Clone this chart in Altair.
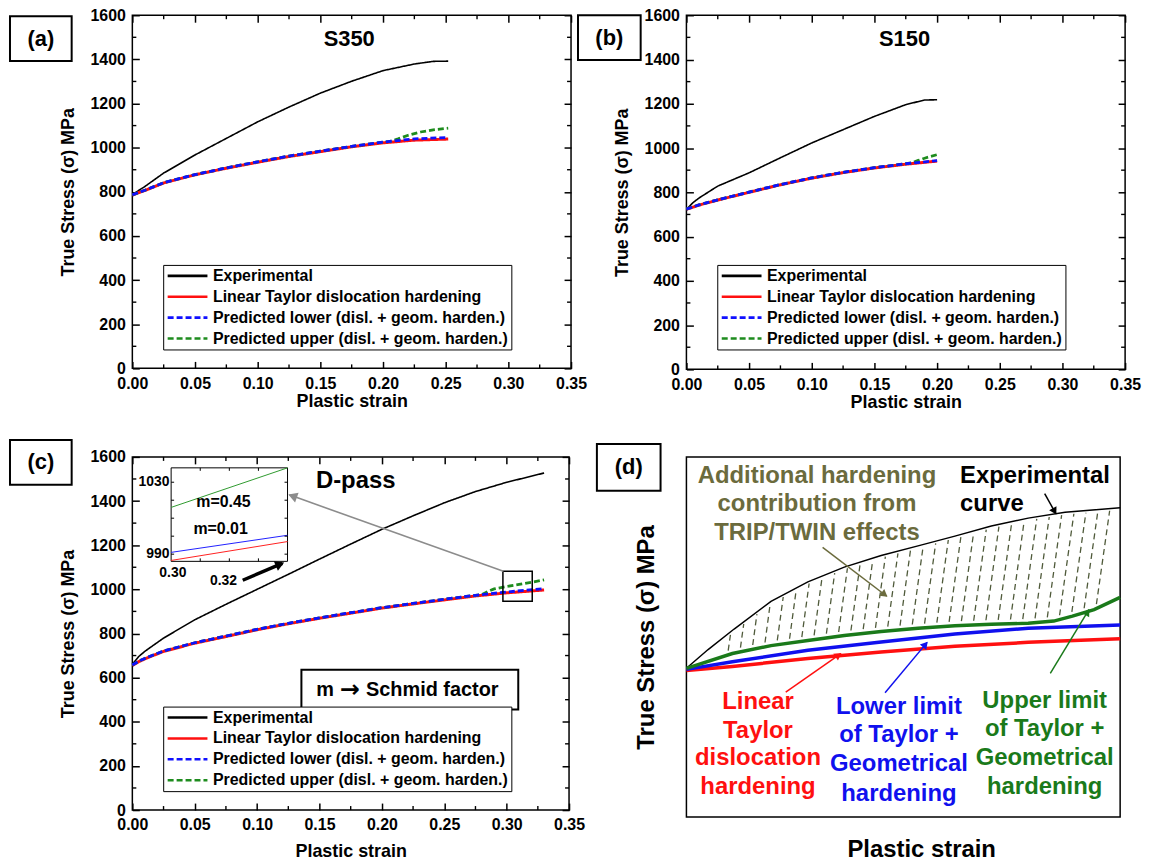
import math
import altair as alt
import numpy as np
import pandas as pd

FONT = "Liberation Sans"

SERIES = ["Experimental", "Linear Taylor dislocation hardening",
          "Predicted lower (disl. + geom. harden.)",
          "Predicted upper (disl. + geom. harden.)"]
SERIES_COLORS = ["#000000", "#ff1010", "#1010ff", "#1e8c1e"]
SERIES_DASH = [[1, 0], [1, 0], [6, 3], [6, 3]]
SERIES_WIDTH = [1.6, 3.0, 2.8, 2.8]
DRAW_ORDER = [0, 1, 3, 2]

X_MAJOR = [0.0, 0.05, 0.10, 0.15, 0.20, 0.25, 0.30, 0.35]
X_MINOR = [0.025, 0.075, 0.125, 0.175, 0.225, 0.275, 0.325]
Y_MAJOR = [0, 200, 400, 600, 800, 1000, 1200, 1400, 1600]
Y_MINOR = [100, 300, 500, 700, 900, 1100, 1300, 1500]
X_DOMAIN = [0.0, 0.35]
Y_DOMAIN = [0, 1600]

# ---------------- panel (a) S350 ----------------
a_exp_x = [0, 0.005, 0.01, 0.025, 0.05, 0.075, 0.10, 0.125, 0.15, 0.175, 0.20, 0.225, 0.24, 0.252]
a_exp_y = [787, 806, 824, 885, 967, 1042, 1117, 1184, 1247, 1301, 1349, 1379, 1391, 1392]
a_lin_x = [0, 0.005, 0.01, 0.025, 0.05, 0.075, 0.10, 0.125, 0.15, 0.175, 0.20, 0.225, 0.252]
a_lin_y = [785, 796, 806, 840, 877, 907, 934, 960, 982, 1004, 1022, 1034, 1039]
a_low_x = [0, 0.005, 0.01, 0.025, 0.05, 0.075, 0.10, 0.125, 0.15, 0.175, 0.20, 0.225, 0.252]
a_low_y = [786, 797, 807, 841, 878, 908, 936, 962, 984, 1006, 1025, 1040, 1046]
a_up_x = [0, 0.01, 0.025, 0.05, 0.075, 0.10, 0.125, 0.15, 0.175, 0.20, 0.206, 0.212, 0.22, 0.23, 0.24, 0.252]
a_up_y = [786, 807, 841, 878, 908, 936, 962, 984, 1006, 1025, 1029, 1040, 1056, 1071, 1081, 1088]

# ---------------- panel (b) S150 ----------------
b_exp_x = [0, 0.005, 0.01, 0.025, 0.05, 0.075, 0.10, 0.125, 0.15, 0.175, 0.19, 0.20]
b_exp_y = [723, 752, 774, 828, 888, 956, 1023, 1083, 1143, 1196, 1217, 1218]
b_lin_x = [0, 0.01, 0.025, 0.05, 0.075, 0.10, 0.125, 0.15, 0.175, 0.20]
b_lin_y = [723, 742, 765, 800, 834, 864, 889, 910, 927, 941]
b_low_x = [0, 0.01, 0.025, 0.05, 0.075, 0.10, 0.125, 0.15, 0.175, 0.20]
b_low_y = [724, 743, 766, 801, 835, 865, 890, 911, 929, 943]
b_up_x = [0, 0.01, 0.025, 0.05, 0.075, 0.10, 0.125, 0.15, 0.175, 0.18, 0.185, 0.19, 0.195, 0.20]
b_up_y = [724, 743, 766, 801, 835, 865, 890, 911, 929, 933, 944, 954, 962, 970]

# ---------------- panel (c) D-pass ----------------
c_exp_x = [0, 0.005, 0.01, 0.025, 0.05, 0.075, 0.10, 0.125, 0.15, 0.175, 0.20, 0.225, 0.25, 0.275, 0.30, 0.33]
c_exp_y = [660, 695, 719, 779, 862, 932, 1000, 1068, 1137, 1205, 1272, 1333, 1392, 1443, 1485, 1527]
c_lin_x = [0, 0.005, 0.01, 0.025, 0.05, 0.075, 0.10, 0.125, 0.15, 0.175, 0.20, 0.225, 0.25, 0.275, 0.30, 0.33]
c_lin_y = [655, 672, 685, 719, 756, 786, 817, 844, 869, 892, 915, 934, 952, 970, 984, 997]
c_low_x = [0, 0.005, 0.01, 0.025, 0.05, 0.075, 0.10, 0.125, 0.15, 0.175, 0.20, 0.225, 0.25, 0.275, 0.30, 0.33]
c_low_y = [657, 674, 687, 721, 758, 788, 819, 846, 871, 894, 917, 936, 955, 973, 988, 1003]
c_up_x = [0, 0.005, 0.01, 0.025, 0.05, 0.075, 0.10, 0.125, 0.15, 0.175, 0.20, 0.225, 0.25, 0.275,
          0.28, 0.285, 0.29, 0.30, 0.31, 0.32, 0.33]
c_up_y = [657, 674, 687, 721, 758, 788, 819, 846, 871, 894, 917, 936, 955, 973,
          976, 990, 1002, 1013, 1022, 1032, 1043]

# inset of (c)
inset_x = [0.30, 0.32]
inset_lin = [986.5, 997.0]
inset_low = [991.0, 1000.5]
inset_up = [1016.0, 1038.0]
INSET_XD = [0.30, 0.32]
INSET_YD = [986, 1038]
INSET_XT = [0.305, 0.31, 0.315]
INSET_YT = [990, 1000, 1010, 1020, 1030]

# ---------------- panel (d) schematic ----------------
d_exp_u = [0, 0.05, 0.11, 0.195, 0.28, 0.364, 0.449, 0.534, 0.619, 0.703, 0.788, 0.873, 1.0]
d_exp_v = [0.413, 0.465, 0.522, 0.599, 0.653, 0.694, 0.726, 0.753, 0.780, 0.808, 0.830, 0.846, 0.859]
d_up_u = [0, 0.106, 0.195, 0.28, 0.364, 0.449, 0.534, 0.619, 0.703, 0.788, 0.847, 0.89, 0.94, 1.0]
d_up_v = [0.413, 0.454, 0.476, 0.49, 0.504, 0.515, 0.524, 0.531, 0.535, 0.538, 0.544, 0.558, 0.576, 0.61]
d_low_u = [0, 0.106, 0.28, 0.449, 0.619, 0.788, 1.0]
d_low_v = [0.41, 0.431, 0.463, 0.486, 0.508, 0.524, 0.533]
d_lin_u = [0, 0.106, 0.28, 0.449, 0.619, 0.788, 1.0]
d_lin_v = [0.407, 0.418, 0.44, 0.458, 0.474, 0.485, 0.495]

OLIVE = "#6b6b3d"
D_RED = "#ff1010"
D_BLUE = "#1010ee"
D_GREEN = "#1a7a1a"

# panel sizes
AW, AH = 441, 355
BW, BH = 441, 356
CW, CH = 439, 355
DW, DH = 436, 362

TICK_IN = 7  # inward tick length (px)


def lin_scale(domain, rng=None):
    if rng is None:
        return alt.Scale(domain=domain, nice=False, zero=False)
    return alt.Scale(domain=domain, range=rng, nice=False, zero=False)


def x_axis(title_pad):
    # axis line pulled inside by TICK_IN so its outward ticks end on the frame: inward ticks
    return alt.Axis(title="Plastic strain", values=X_MAJOR, format=".2f", ticks=True,
                    tickSize=TICK_IN, offset=-TICK_IN, tickColor="black", tickWidth=1.5,
                    domain=False, grid=False, labelFlush=False, labelOverlap=False,
                    labelFont=FONT, labelFontWeight="bold", labelFontSize=16, labelColor="black",
                    labelPadding=7, titleFont=FONT, titleFontWeight="bold", titleFontSize=18,
                    titleColor="black", titlePadding=title_pad)


def y_axis():
    return alt.Axis(title="True Stress (σ) MPa", values=Y_MAJOR, format="d", ticks=True,
                    tickSize=TICK_IN, offset=-TICK_IN, tickColor="black", tickWidth=1.5,
                    domain=False, grid=False, labelFlush=False, labelOverlap=False,
                    labelFont=FONT, labelFontWeight="bold", labelFontSize=16, labelColor="black",
                    labelPadding=7, titleFont=FONT, titleFontWeight="bold", titleFontSize=18,
                    titleColor="black", titlePadding=13)


def mirror_layer():
    """Top and right inward major ticks, through an independent copy of the panel's scales."""
    top = alt.Axis(orient="top", values=X_MAJOR, ticks=True, tickSize=TICK_IN, offset=-TICK_IN,
                   tickColor="black", tickWidth=1.5, labels=False, domain=False, grid=False, title=None)
    right = alt.Axis(orient="right", values=Y_MAJOR, ticks=True, tickSize=TICK_IN, offset=-TICK_IN,
                     tickColor="black", tickWidth=1.5, labels=False, domain=False, grid=False, title=None)
    d = pd.DataFrame({"mx": X_DOMAIN, "my": Y_DOMAIN})
    return alt.Chart(d).mark_point(opacity=0, size=1).encode(
        x=alt.X("mx:Q", scale=lin_scale(X_DOMAIN), axis=top),
        y=alt.Y("my:Q", scale=lin_scale(Y_DOMAIN), axis=right))


def make_legend():
    return alt.Legend(title=None, orient="none", legendX=31, legendY=251, strokeColor="black",
                      fillColor="white", padding=3, labelFont=FONT, labelFontWeight="bold",
                      labelFontSize=16, labelColor="black", labelLimit=600, labelOffset=4,
                      symbolType="stroke", symbolSize=1600, symbolStrokeWidth=2.6,
                      clipHeight=16, rowPadding=5, symbolOffset=0)


def arrow_head(x1, y1, x2, y2, xd, yd, W, H, back=4.0):
    dxp = (x2 - x1) / (xd[1] - xd[0]) * W
    dyp = -(y2 - y1) / (yd[1] - yd[0]) * H
    L = math.hypot(dxp, dyp)
    ux, uy = dxp / L, dyp / L
    ang = math.degrees(math.atan2(ux, -uy)) % 360
    hx = x2 - ux * back / W * (xd[1] - xd[0])
    hy = y2 + uy * back / H * (yd[1] - yd[0])
    return hx, hy, ang


def tag_layers(tag, x1, x2, y1, y2):
    d = pd.DataFrame({"t": [tag]})
    box = alt.Chart(d).mark_rect(fill="white", stroke="black", strokeWidth=2).encode(
        x=alt.value(x1), x2=alt.value(x2), y=alt.value(y1), y2=alt.value(y2))
    txt = alt.Chart(d).mark_text(font=FONT, fontWeight="bold", fontSize=22, color="black").encode(
        x=alt.value((x1 + x2) / 2), y=alt.value((y1 + y2) / 2), text="t:N")
    return [box, txt]


def tick_layers(X, Y, xd, yd, W, H, xmaj, xmin, ymaj, ymin, maj_len, min_len, width=1.4):
    """Inward ticks on all four sides: each tick is a 2-point line through the panel's scales."""
    rows = []
    ylen = lambda L: L / H * (yd[1] - yd[0])
    xlen = lambda L: L / W * (xd[1] - xd[0])
    k = 0
    for vals, L in ((xmaj, maj_len), (xmin, min_len)):
        for v in vals:
            for e0, e1 in ((yd[0], yd[0] + ylen(L)), (yd[1], yd[1] - ylen(L))):
                rows.append({"tid": k, "o": 0, "tx": v, "ty": e0})
                rows.append({"tid": k, "o": 1, "tx": v, "ty": e1})
                k += 1
    for vals, L in ((ymaj, maj_len), (ymin, min_len)):
        for v in vals:
            for e0, e1 in ((xd[0], xd[0] + xlen(L)), (xd[1], xd[1] - xlen(L))):
                rows.append({"tid": k, "o": 0, "tx": e0, "ty": v})
                rows.append({"tid": k, "o": 1, "tx": e1, "ty": v})
                k += 1
    d = pd.DataFrame(rows)
    return [alt.Chart(d).mark_line(color="#000000", strokeWidth=width, strokeCap="butt").encode(
        x=X("tx"), y=Y("ty"), detail="tid:N", order="o:Q")]


def main_layers(curves, W, H, name, name_x, name_y, tag, tagbox, name_size=22, title_pad=1):
    xs = lin_scale(X_DOMAIN)
    ys = lin_scale(Y_DOMAIN)
    xa = x_axis(title_pad)
    ya = y_axis()

    def X(f):
        return alt.X(f, type="quantitative", scale=xs, axis=xa)

    def Y(f):
        return alt.Y(f, type="quantitative", scale=ys, axis=ya)

    leg = make_legend()
    cscale = alt.Scale(domain=SERIES, range=SERIES_COLORS)
    dscale = alt.Scale(domain=SERIES, range=SERIES_DASH)
    layers = []
    for i in DRAW_ORDER:
        sx, sy = curves[i]
        df = pd.DataFrame({"strain": sx, "stress": sy, "series": SERIES[i]})
        layers.append(alt.Chart(df).mark_line(strokeWidth=SERIES_WIDTH[i]).encode(
            x=X("strain"), y=Y("stress"),
            color=alt.Color("series:N", scale=cscale, legend=leg),
            strokeDash=alt.StrokeDash("series:N", scale=dscale, legend=leg)))
    layers += tick_layers(X, Y, X_DOMAIN, Y_DOMAIN, W, H, [], X_MINOR, [], Y_MINOR, 7, 4)
    nd = pd.DataFrame({"strain": [name_x], "stress": [name_y], "t": [name]})
    layers.append(alt.Chart(nd).mark_text(font=FONT, fontWeight="bold", fontSize=name_size,
                                          color="black").encode(x=X("strain"), y=Y("stress"), text="t:N"))
    layers += tag_layers(tag, *tagbox)
    return layers, X, Y


# ---------- (a) ----------
la, _, _ = main_layers([(a_exp_x, a_exp_y), (a_lin_x, a_lin_y), (a_low_x, a_low_y), (a_up_x, a_up_y)],
                       AW, AH, "S350", 0.173, 1492, "(a)", (-123, -61, 1, 46))
pa = alt.layer(alt.layer(*la), mirror_layer()).resolve_scale(
    x="independent", y="independent").properties(width=AW, height=AH)

# ---------- (b) ----------
lb, _, _ = main_layers([(b_exp_x, b_exp_y), (b_lin_x, b_lin_y), (b_low_x, b_low_y), (b_up_x, b_up_y)],
                       BW, BH, "S150", 0.174, 1492, "(b)", (-109, -46, 0, 45))
pb = alt.layer(alt.layer(*lb), mirror_layer()).resolve_scale(
    x="independent", y="independent").properties(width=BW, height=BH)

# ---------- (c) ----------
lc, CX, CY = main_layers([(c_exp_x, c_exp_y), (c_lin_x, c_lin_y), (c_low_x, c_low_y), (c_up_x, c_up_y)],
                         CW, CH, "D-pass", 0.179, 1492, "(c)", (-123, -61, -17, 28), name_size=24,
                         title_pad=10)
# zoom rectangle
lc.append(alt.Chart(pd.DataFrame({"x1": [0.297], "x2": [0.3205], "y1": [946], "y2": [1082]})).mark_rect(
    fill=None, stroke="black", strokeWidth=1.5).encode(
    x=CX("x1"), x2="x2:Q", y=CY("y1"), y2="y2:Q"))
# gray arrow from zoom box to inset
g_x1, g_y1, g_x2, g_y2 = 0.2974, 1081.7, 0.1258, 1428.0
lc.append(alt.Chart(pd.DataFrame({"x1": [g_x1], "x2": [g_x2], "y1": [g_y1], "y2": [g_y2]})).mark_rule(
    color="#8c8c8c", strokeWidth=1.6).encode(x=CX("x1"), x2="x2:Q", y=CY("y1"), y2="y2:Q"))
hx, hy, ang = arrow_head(g_x1, g_y1, g_x2, g_y2, X_DOMAIN, Y_DOMAIN, CW, CH, back=5)
lc.append(alt.Chart(pd.DataFrame({"x": [hx], "y": [hy]})).mark_point(
    shape="triangle", filled=True, color="#8c8c8c", size=110, opacity=1).encode(
    x=CX("x"), y=CY("y"), angle=alt.value(ang)))
# Schmid factor box
lc.append(alt.Chart(pd.DataFrame({"x1": [0.1355], "x2": [0.3093], "y1": [455], "y2": [635.5]})).mark_rect(
    fill="white", stroke="black", strokeWidth=2).encode(x=CX("x1"), x2="x2:Q", y=CY("y1"), y2="y2:Q"))
lc.append(alt.Chart(pd.DataFrame({"x": [0.1615], "y": [545], "t": ["m"]})).mark_text(
    font=FONT, fontWeight="bold", fontSize=20, color="black", align="right").encode(
    x=CX("x"), y=CY("y"), text="t:N"))
lc.append(alt.Chart(pd.DataFrame({"x": [0.1742], "y": [545], "t": ["→"]})).mark_text(
    font="DejaVu Sans", fontWeight="bold", fontSize=24, color="black").encode(
    x=CX("x"), y=CY("y"), text="t:N"))
lc.append(alt.Chart(pd.DataFrame({"x": [0.1873], "y": [545], "t": ["Schmid factor"]})).mark_text(
    font=FONT, fontWeight="bold", fontSize=20, color="black", align="left").encode(
    x=CX("x"), y=CY("y"), text="t:N"))
main_c = alt.layer(*lc)

ixs = lin_scale(INSET_XD, [39, 156])
iys = lin_scale(INSET_YD, [105, 11])
IW, IH = 117, 94


def IX(f):
    return alt.X(f, type="quantitative", scale=ixs, axis=None)


def IY(f):
    return alt.Y(f, type="quantitative", scale=iys, axis=None)


il = []
il.append(alt.Chart(pd.DataFrame({"x1": [0.30], "x2": [0.32], "y1": [986], "y2": [1038]})).mark_rect(
    fill="white", stroke="black", strokeWidth=1).encode(x=IX("x1"), x2="x2:Q", y=IY("y1"), y2="y2:Q"))
for vals, col in ((inset_lin, "#ff2020"), (inset_low, "#2020ff"), (inset_up, "#2e9a2e")):
    il.append(alt.Chart(pd.DataFrame({"x": inset_x, "y": vals})).mark_line(color=col, strokeWidth=1).encode(
        x=IX("x"), y=IY("y")))
il += tick_layers(IX, IY, INSET_XD, INSET_YD, IW, IH, INSET_XT, [], INSET_YT, [], 3, 2, width=1)
il.append(alt.Chart(pd.DataFrame({"x": [0.2997, 0.2997], "y": [1030, 990], "t": ["1030", "990"]})).mark_text(
    font=FONT, fontWeight="bold", fontSize=14, color="black", align="right").encode(
    x=IX("x"), y=IY("y"), text="t:N"))
il.append(alt.Chart(pd.DataFrame({"x": [0.3003, 0.309], "y": [979.4, 974.9], "t": ["0.30", "0.32"]})).mark_text(
    font=FONT, fontWeight="bold", fontSize=14, color="black").encode(
    x=IX("x"), y=IY("y"), text="t:N"))
il.append(alt.Chart(pd.DataFrame({"x": [0.309, 0.3085], "y": [1019.2, 1003.7], "t": ["m=0.45", "m=0.01"]})).mark_text(
    font=FONT, fontWeight="bold", fontSize=16, color="black").encode(
    x=IX("x"), y=IY("y"), text="t:N"))
k_x1, k_y1, k_x2, k_y2 = 0.3123, 975.5, 0.3191, 984.9
il.append(alt.Chart(pd.DataFrame({"x1": [k_x1], "x2": [k_x2], "y1": [k_y1], "y2": [k_y2]})).mark_rule(
    color="black", strokeWidth=3.5).encode(x=IX("x1"), x2="x2:Q", y=IY("y1"), y2="y2:Q"))
hx, hy, ang = arrow_head(k_x1, k_y1, k_x2, k_y2, INSET_XD, INSET_YD, IW, IH, back=4)
il.append(alt.Chart(pd.DataFrame({"x": [hx], "y": [hy]})).mark_point(
    shape="triangle", filled=True, color="black", size=110, opacity=1).encode(
    x=IX("x"), y=IY("y"), angle=alt.value(ang)))
inset_c = alt.layer(*il)

pc = alt.layer(main_c, inset_c, mirror_layer()).resolve_scale(
    x="independent", y="independent").properties(width=CW, height=CH)

# ---------- (d) ----------
dxs = lin_scale([0, 1])
dys = lin_scale([0, 1])
dxa = alt.Axis(title="Plastic strain", labels=False, ticks=False, domain=False, grid=False,
               titleFont=FONT, titleFontWeight="bold", titleFontSize=24, titleColor="black",
               titlePadding=21, titleX=236)
dya = alt.Axis(title="True Stress (σ) MPa", labels=False, ticks=False, domain=False, grid=False,
               titleFont=FONT, titleFontWeight="bold", titleFontSize=24, titleColor="black", titlePadding=28)


def DX(f):
    return alt.X(f, type="quantitative", scale=dxs, axis=dxa)


def DY(f):
    return alt.Y(f, type="quantitative", scale=dys, axis=dya)


ld = []
# hatch pattern between upper-limit curve and experimental curve
hatch_rows = []
for hb in np.arange(0.068, 0.995, 0.0283):
    vb = float(np.interp(hb, d_up_u, d_up_v)) + 0.012
    vt = float(np.interp(hb, d_exp_u, d_exp_v))
    ut = hb + 0.14 * (vt - vb) * DH / DW
    if ut > 0.995:
        continue
    vt = float(np.interp(ut, d_exp_u, d_exp_v)) - 0.006
    if vt - vb < 0.03:
        continue
    hatch_rows.append({"x1": hb, "y1": vb, "x2": ut, "y2": vt})
ld.append(alt.Chart(pd.DataFrame(hatch_rows)).mark_rule(color="#4f5a3a", strokeWidth=1.3,
                                                        strokeDash=[6, 4]).encode(
    x=DX("x1"), x2="x2:Q", y=DY("y1"), y2="y2:Q"))
for (uu, vv, col, w) in ((d_exp_u, d_exp_v, "#000000", 1.5), (d_lin_u, d_lin_v, D_RED, 3.5),
                         (d_low_u, d_low_v, D_BLUE, 3.5), (d_up_u, d_up_v, D_GREEN, 3.5)):
    ld.append(alt.Chart(pd.DataFrame({"u": uu, "v": vv})).mark_line(color=col, strokeWidth=w).encode(
        x=DX("u"), y=DY("v")))

d_text_center = pd.DataFrame({
    "u": [0.301, 0.301, 0.301, 0.165, 0.165, 0.165, 0.165, 0.49, 0.49, 0.49, 0.49, 0.826, 0.826, 0.826, 0.826],
    "v": [0.948, 0.869, 0.788, 0.319, 0.240, 0.163, 0.083, 0.304, 0.227, 0.147, 0.064, 0.322, 0.243, 0.163, 0.082],
    "t": ["Additional hardening", "contribution from", "TRIP/TWIN effects",
          "Linear", "Taylor", "dislocation", "hardening",
          "Lower limit", "of Taylor +", "Geometrical", "hardening",
          "Upper limit", "of Taylor +", "Geometrical", "hardening"],
    "c": [OLIVE] * 3 + [D_RED] * 4 + [D_BLUE] * 4 + [D_GREEN] * 4,
})
ld.append(alt.Chart(d_text_center).mark_text(font=FONT, fontWeight="bold", fontSize=24).encode(
    x=DX("u"), y=DY("v"), text="t:N", color=alt.Color("c:N", scale=None)))
d_text_left = pd.DataFrame({"u": [0.631, 0.631], "v": [0.948, 0.869], "t": ["Experimental", "curve"]})
ld.append(alt.Chart(d_text_left).mark_text(font=FONT, fontWeight="bold", fontSize=24, align="left",
                                           color="black").encode(x=DX("u"), y=DY("v"), text="t:N"))

d_arrows = [
    (0.826, 0.898, 0.852, 0.842, "#000000", 1.5),
    (0.314, 0.749, 0.462, 0.613, OLIVE, 1.5),
    (0.229, 0.347, 0.356, 0.454, D_RED, 1.5),
    (0.458, 0.345, 0.555, 0.485, D_BLUE, 1.5),
    (0.839, 0.399, 0.928, 0.576, D_GREEN, 1.5),
]
arr_df = pd.DataFrame([{"x1": a[0], "y1": a[1], "x2": a[2], "y2": a[3], "c": a[4], "w": a[5]} for a in d_arrows])
ld.append(alt.Chart(arr_df).mark_rule().encode(
    x=DX("x1"), x2="x2:Q", y=DY("y1"), y2="y2:Q", color=alt.Color("c:N", scale=None),
    strokeWidth=alt.StrokeWidth("w:Q", scale=None)))
heads = []
for a in d_arrows:
    hx, hy, ang = arrow_head(a[0], a[1], a[2], a[3], [0, 1], [0, 1], DW, DH, back=4)
    heads.append({"x": hx, "y": hy, "a": ang, "c": a[4]})
ld.append(alt.Chart(pd.DataFrame(heads)).mark_point(shape="triangle", filled=True, size=70, opacity=1).encode(
    x=DX("x"), y=DY("y"), angle=alt.Angle("a:Q", scale=None), color=alt.Color("c:N", scale=None)))
ld += tag_layers("(d)", -90, -26, -13, 34)
pd_ = alt.layer(*ld).properties(width=DW, height=DH)

chart = alt.concat(pa, pb, pc, pd_, columns=2, spacing={"row": 88, "column": 116},
                   bounds="flush", align="none").resolve_scale(
    color="independent", strokeDash="independent").resolve_legend(
    color="independent", strokeDash="independent").properties(
    padding={"left": 0, "top": -4, "right": 4, "bottom": 4}).configure_view(
    stroke="black", strokeWidth=1.5).configure_axis(grid=False)

chart.save("out.html", embed_options={"renderer": "svg", "actions": False})
